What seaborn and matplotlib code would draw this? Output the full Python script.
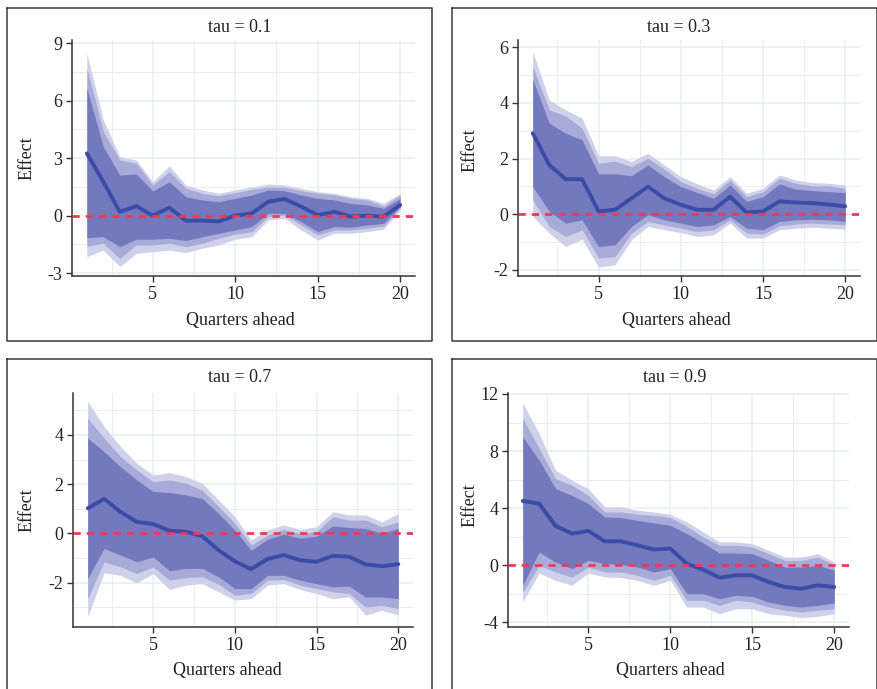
import numpy as np
import pandas as pd
import matplotlib
matplotlib.use("Agg")
import matplotlib.pyplot as plt
from matplotlib.lines import Line2D
import seaborn as sns

# ---------------- data ----------------
quarters = [1, 2, 3, 4, 5, 6, 7, 8, 9, 10, 11, 12, 13, 14, 15, 16, 17, 18, 19, 20]
taus = ["0.1", "0.3", "0.7", "0.9"]

eff_01 = [3.25, 1.77, 0.20, 0.50, 0.00, 0.42, -0.26, -0.26, -0.30, 0.00, 0.12, 0.73, 0.87, 0.47, 0.03, 0.20, -0.05, 0.00, -0.05, 0.56]
in_hi_01 = [6.64, 3.60, 2.12, 2.17, 1.29, 1.77, 0.99, 0.82, 0.73, 0.90, 1.08, 1.34, 1.30, 1.08, 0.90, 0.82, 0.64, 0.56, 0.38, 0.90]
mid_hi_01 = [7.69, 4.40, 2.90, 2.73, 1.60, 2.30, 1.43, 1.17, 1.04, 1.20, 1.37, 1.50, 1.48, 1.30, 1.17, 1.08, 0.90, 0.82, 0.50, 1.08]
out_hi_01 = [8.47, 5.00, 3.08, 2.90, 1.77, 2.60, 1.60, 1.34, 1.17, 1.34, 1.50, 1.65, 1.60, 1.43, 1.25, 1.17, 0.99, 0.90, 0.64, 1.17]
in_lo_01 = [-1.15, -1.10, -1.62, -1.23, -1.23, -1.18, -1.30, -1.10, -0.92, -0.75, -0.57, 0.12, 0.12, -0.31, -0.83, -0.57, -0.60, -0.49, -0.40, 0.47]
mid_lo_01 = [-1.60, -1.44, -2.23, -1.53, -1.53, -1.44, -1.62, -1.44, -1.18, -0.96, -0.83, -0.05, 0.03, -0.49, -1.00, -0.75, -0.75, -0.66, -0.54, 0.38]
out_lo_01 = [-2.14, -1.80, -2.66, -1.97, -1.88, -1.80, -1.93, -1.70, -1.53, -1.23, -1.10, -0.23, -0.14, -0.75, -1.27, -0.92, -0.92, -0.83, -0.71, 0.30]

eff_03 = [2.91, 1.77, 1.26, 1.26, 0.10, 0.16, 0.57, 0.99, 0.57, 0.34, 0.16, 0.16, 0.63, 0.06, 0.10, 0.46, 0.42, 0.40, 0.35, 0.28]
in_hi_03 = [4.83, 3.27, 2.91, 2.67, 1.45, 1.45, 1.38, 1.77, 1.35, 0.99, 0.78, 0.57, 1.05, 0.46, 0.63, 1.09, 0.90, 0.85, 0.81, 0.78]
mid_hi_03 = [5.30, 3.75, 3.53, 3.09, 1.83, 1.90, 1.71, 2.01, 1.62, 1.17, 0.93, 0.73, 1.23, 0.63, 0.81, 1.29, 1.11, 1.02, 1.02, 0.93]
out_hi_03 = [5.84, 4.10, 3.75, 3.45, 2.10, 2.10, 1.90, 2.19, 1.77, 1.35, 1.09, 0.87, 1.35, 0.75, 0.93, 1.41, 1.23, 1.14, 1.11, 1.05]
in_lo_03 = [0.99, 0.10, -0.32, -0.20, -1.16, -1.10, -0.44, -0.02, -0.20, -0.32, -0.44, -0.38, -0.08, -0.50, -0.56, -0.26, -0.20, -0.18, -0.20, -0.26]
mid_lo_03 = [0.51, -0.44, -0.80, -0.56, -1.58, -1.52, -0.68, -0.26, -0.38, -0.50, -0.62, -0.56, -0.20, -0.68, -0.71, -0.42, -0.35, -0.32, -0.35, -0.38]
out_lo_03 = [-0.08, -0.68, -1.16, -0.90, -1.90, -1.82, -0.92, -0.44, -0.56, -0.66, -0.80, -0.74, -0.32, -0.86, -0.86, -0.56, -0.50, -0.47, -0.50, -0.54]

eff_07 = [1.02, 1.40, 0.88, 0.47, 0.38, 0.11, 0.07, -0.11, -0.68, -1.13, -1.45, -1.04, -0.88, -1.09, -1.15, -0.91, -0.95, -1.26, -1.33, -1.25]
in_hi_07 = [3.87, 3.32, 2.71, 2.17, 1.70, 1.66, 1.56, 1.42, 0.81, 0.14, -0.68, -0.24, -0.03, -0.20, -0.11, 0.30, 0.24, 0.20, 0.00, 0.20]
mid_hi_07 = [4.68, 3.87, 3.12, 2.58, 2.10, 2.17, 2.04, 1.76, 1.09, 0.41, -0.47, -0.07, 0.16, 0.00, 0.07, 0.68, 0.54, 0.54, 0.27, 0.47]
out_hi_07 = [5.36, 4.34, 3.53, 2.85, 2.37, 2.47, 2.31, 2.04, 1.36, 0.68, -0.27, 0.14, 0.34, 0.16, 0.27, 0.88, 0.75, 0.75, 0.47, 0.81]
in_lo_07 = [-1.83, -0.61, -0.88, -1.15, -0.95, -1.52, -1.42, -1.42, -1.76, -2.24, -2.24, -1.70, -1.70, -1.90, -2.04, -2.17, -2.14, -2.58, -2.58, -2.65]
mid_lo_07 = [-2.65, -1.15, -1.36, -1.63, -1.36, -1.90, -1.79, -1.76, -2.06, -2.51, -2.44, -1.90, -1.87, -2.10, -2.24, -2.37, -2.44, -2.99, -2.92, -3.05]
out_lo_07 = [-3.39, -1.60, -1.70, -2.01, -1.63, -2.28, -2.10, -2.04, -2.37, -2.71, -2.65, -2.10, -2.04, -2.28, -2.44, -2.65, -2.58, -3.32, -3.12, -3.32]

eff_09 = [4.51, 4.32, 2.76, 2.22, 2.41, 1.68, 1.68, 1.40, 1.10, 1.17, 0.12, -0.30, -0.86, -0.70, -0.70, -1.17, -1.52, -1.64, -1.40, -1.52]
in_hi_09 = [9.00, 7.36, 5.37, 4.90, 4.32, 3.39, 3.34, 3.15, 2.97, 2.80, 2.22, 1.57, 0.86, 0.86, 0.82, 0.35, -0.12, -0.12, 0.00, -0.35]
mid_hi_09 = [10.28, 8.18, 6.07, 5.61, 4.90, 3.74, 3.74, 3.57, 3.50, 3.34, 2.73, 1.99, 1.40, 1.40, 1.29, 0.82, 0.35, 0.35, 0.58, 0.00]
out_hi_09 = [11.38, 9.23, 6.66, 5.96, 5.37, 4.09, 4.09, 3.86, 3.74, 3.57, 3.04, 2.34, 1.64, 1.64, 1.52, 1.05, 0.58, 0.58, 0.82, 0.23]
in_lo_09 = [-1.40, 0.93, 0.23, -0.23, 0.35, 0.12, 0.05, -0.12, -0.47, -0.23, -1.99, -1.99, -2.34, -2.10, -2.17, -2.57, -2.80, -2.92, -2.80, -2.64]
mid_lo_09 = [-1.90, 0.00, -0.47, -0.82, -0.12, -0.47, -0.47, -0.70, -1.05, -0.70, -2.45, -2.45, -2.80, -2.45, -2.57, -2.92, -3.15, -3.27, -3.15, -3.04]
out_lo_09 = [-2.57, -0.54, -1.05, -1.40, -0.54, -0.82, -0.86, -1.05, -1.40, -1.05, -2.92, -2.92, -3.39, -3.04, -3.04, -3.39, -3.50, -3.67, -3.57, -3.39]

yticks_01 = [-3, 0, 3, 6, 9]
yticks_03 = [-2, 0, 2, 4, 6]
yticks_07 = [-2, 0, 2, 4]
yticks_09 = [-4, 0, 4, 8, 12]
xticks = [5, 10, 15, 20]

# ---------------- style ----------------
sns.set_theme(style="white")
plt.rcParams["font.family"] = ["Liberation Serif", "DejaVu Serif"]
plt.rcParams["axes.linewidth"] = 1.0

W, H = 878, 689
fig = plt.figure(figsize=(W / 100, H / 100), dpi=100)
fig.patch.set_facecolor("white")

C_OUT = "#cfd0ea"
C_MID = "#a8aad8"
C_IN = "#7478bd"
C_LINE = "#3a4ca6"
C_RED = "#f23a52"
C_GRID = "#e9edf0"
C_AX = "#333333"

panels = [
    dict(tau="0.1", eff=eff_01, bands=[(out_lo_01, out_hi_01), (mid_lo_01, mid_hi_01), (in_lo_01, in_hi_01)],
         yticks=yticks_01, ylim=(-3.15, 9.17), box=(7.5, 7.7, 432.3, 340.7), ax=(72, 415, 40, 276),
         title=(240, 28), xl=(240, 321), yl=(27, 158)),
    dict(tau="0.3", eff=eff_03, bands=[(out_lo_03, out_hi_03), (mid_lo_03, mid_hi_03), (in_lo_03, in_hi_03)],
         yticks=yticks_03, ylim=(-2.22, 6.26), box=(452.3, 7.7, 876.7, 340.7), ax=(518, 860, 40, 276),
         title=(679, 28), xl=(676, 321), yl=(470, 150)),
    dict(tau="0.7", eff=eff_07, bands=[(out_lo_07, out_hi_07), (mid_lo_07, mid_hi_07), (in_lo_07, in_hi_07)],
         yticks=yticks_07, ylim=(-3.8, 5.7), box=(7.5, 359, 432.3, 700), ax=(73, 413, 393, 627),
         title=(240, 378), xl=(227, 670), yl=(27, 510)),
    dict(tau="0.9", eff=eff_09, bands=[(out_lo_09, out_hi_09), (mid_lo_09, mid_hi_09), (in_lo_09, in_hi_09)],
         yticks=yticks_09, ylim=(-4.32, 12.07), box=(452.3, 359, 876.7, 700), ax=(508, 849, 393, 627),
         title=(675, 378), xl=(670, 670), yl=(470, 505)),
]

def fx(px):
    return px / W

def fy(py):
    return 1 - py / H

FS = 13

for p in panels:
    l, r, t, b = p["ax"]
    ax = fig.add_axes([fx(l), fy(b), (r - l) / W, (b - t) / H])
    ax.set_facecolor("white")

    df = pd.DataFrame({"Quarters ahead": quarters, "Effect": p["eff"]})
    for (lo, hi), col in zip(p["bands"], [C_OUT, C_MID, C_IN]):
        ax.fill_between(quarters, lo, hi, color=col, lw=0, zorder=2)
    sns.lineplot(data=df, x="Quarters ahead", y="Effect", ax=ax, color=C_LINE, lw=2.8, zorder=4)
    ax.axhline(0, color=C_RED, lw=2.0, linestyle=(0, (2.6, 2.2)), zorder=5)

    ax.set_xticks(xticks)
    ax.set_xticklabels([str(v) for v in xticks])
    yt = p["yticks"]
    ax.set_yticks(yt)
    ax.set_yticklabels([str(v) for v in yt])
    step = yt[1] - yt[0]
    minor_y = [v + step / 2 for v in [yt[0] - step] + yt]
    ax.set_yticks(minor_y, minor=True)
    ax.set_xticks([2.5, 7.5, 12.5, 17.5], minor=True)
    ax.set_xlim(0.1, 20.9)
    ax.set_ylim(*p["ylim"])
    ax.grid(True, which="major", color=C_GRID, lw=1.1, zorder=0)
    ax.grid(True, which="minor", color=C_GRID, lw=0.7, zorder=0)
    ax.set_axisbelow(True)

    for s in ["top", "right"]:
        ax.spines[s].set_visible(False)
    for s in ["left", "bottom"]:
        ax.spines[s].set_color(C_AX)
        ax.spines[s].set_linewidth(1.1)
    ax.tick_params(axis="both", which="major", length=4, width=1.0, color=C_AX,
                   labelsize=FS, labelcolor="#222222", pad=3, direction="out",
                   left=True, bottom=True)
    ax.tick_params(axis="both", which="minor", length=0)

    ax.set_xlabel("Quarters ahead", fontsize=FS, color="#222222")
    ax.set_ylabel("Effect", fontsize=FS, color="#222222")
    ax.xaxis.set_label_coords(fx(p["xl"][0]), fy(p["xl"][1]), transform=fig.transFigure)
    ax.xaxis.label.set_va("center")
    ax.yaxis.set_label_coords(fx(p["yl"][0]), fy(p["yl"][1]), transform=fig.transFigure)
    ax.yaxis.label.set_va("center")

    fig.text(fx(p["title"][0]), fy(p["title"][1]), f"tau = {p['tau']}", fontsize=FS,
             ha="center", va="center", color="#222222")

    x0, y0, x1, y1 = p["box"]
    xs = [fx(x0), fx(x1), fx(x1), fx(x0), fx(x0)]
    ys = [fy(y0), fy(y0), fy(y1), fy(y1), fy(y0)]
    fig.add_artist(Line2D(xs, ys, transform=fig.transFigure, color="#3a3a3a", lw=1.1))

fig.savefig("out.png", dpi=100, facecolor="white")
